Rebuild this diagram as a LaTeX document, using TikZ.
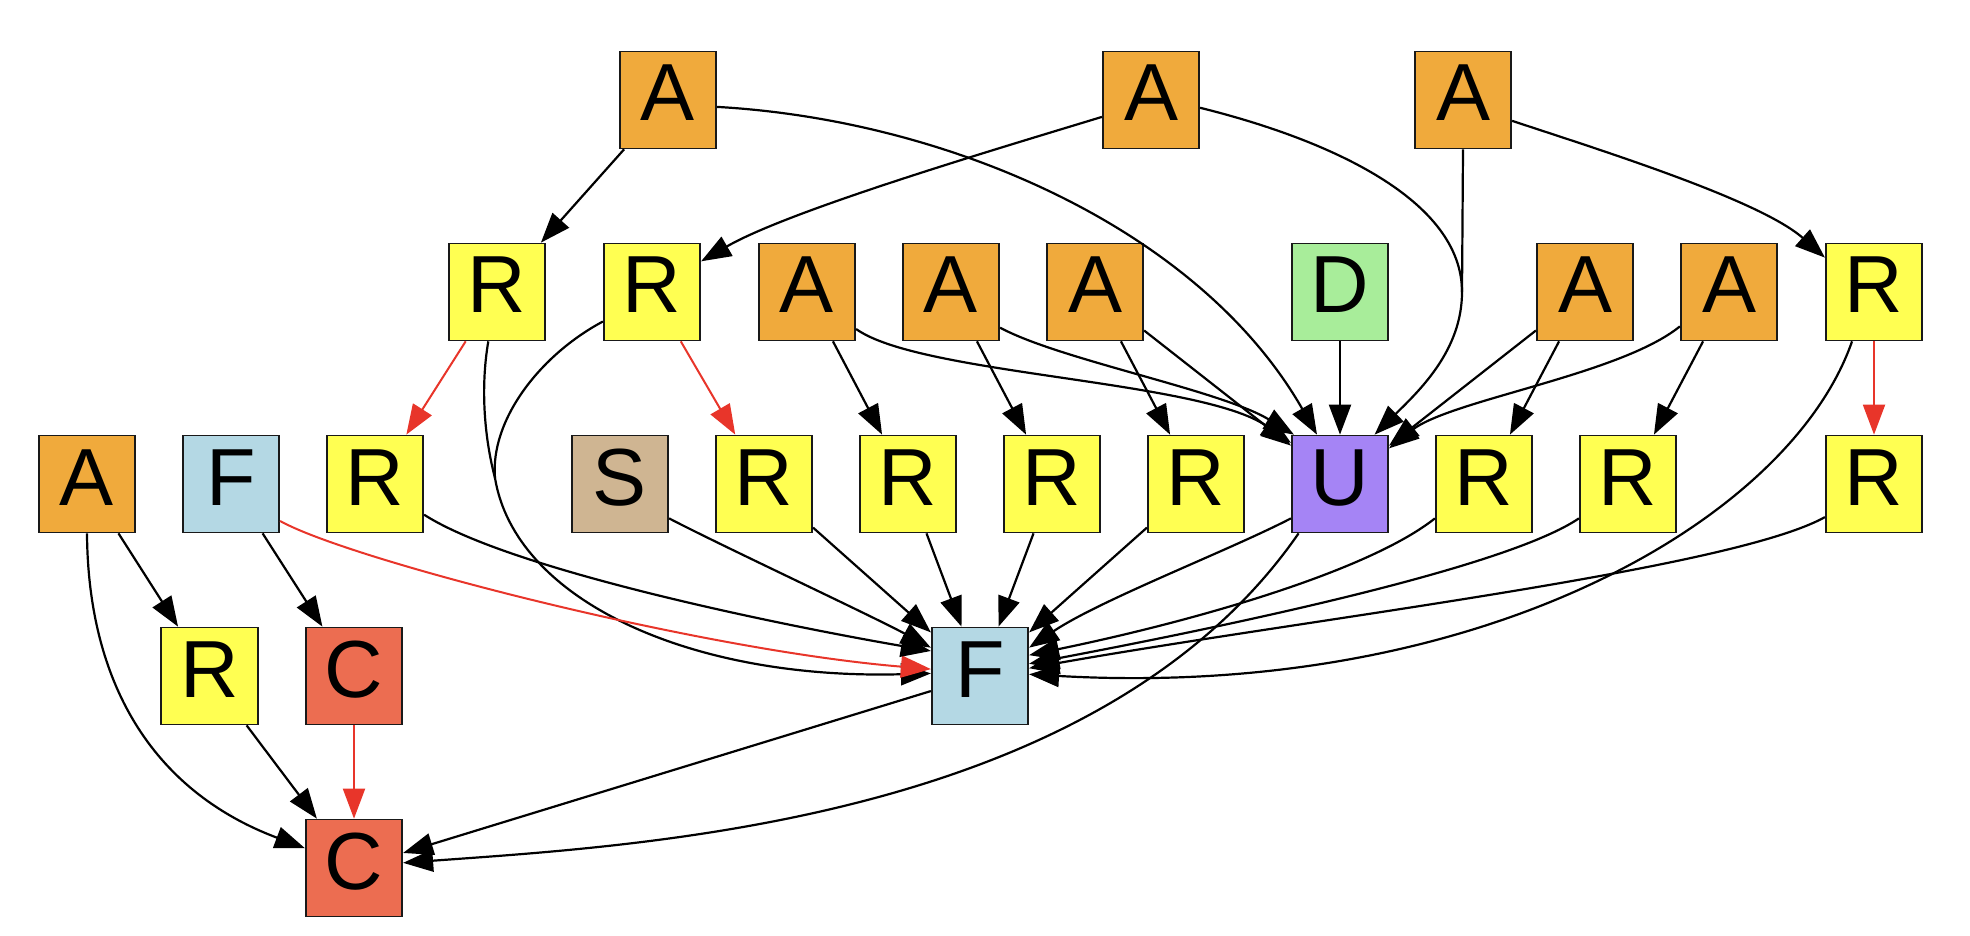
\documentclass[tikz,border=0pt]{standalone}
\usepackage{fontspec}
\setmainfont{Liberation Sans}
\usetikzlibrary{arrows.meta}
\definecolor{corange}{HTML}{F0AA3C}
\definecolor{cyellow}{HTML}{FFFF52}
\definecolor{cblue}{HTML}{B4D8E4}
\definecolor{csalmon}{HTML}{EC6D51}
\definecolor{cpurple}{HTML}{A584F5}
\definecolor{cgreen}{HTML}{A8ED9A}
\definecolor{ctan}{HTML}{CFB592}
\definecolor{cred}{HTML}{E8352A}
\begin{document}
\begin{tikzpicture}[x=0.5pt,y=-0.5pt,
  box/.style={draw=black!90, line width=0.85pt, minimum width=48.25pt, minimum height=48.5pt,
    inner sep=0pt, font=\fontsize{40.5}{40.5}\selectfont, text height=21pt, text depth=0pt},
  edge/.style={line width=1.1pt, -{Triangle[length=15pt,width=11pt]}},
  redge/.style={line width=1pt, draw=cred, -{Triangle[length=15pt,width=11pt]}},
  plain/.style={line width=1.1pt}
]
\useasboundingbox (0,0) rectangle (1970,936);
% row 1
\node[box, fill=corange] (a1) at (668,100) {A};
\node[box, fill=corange] (a2) at (1151,100) {A};
\node[box, fill=corange] (a3) at (1463,100) {A};
% row 2
\node[box, fill=cyellow] (r1) at (497,292) {R};
\node[box, fill=cyellow] (r2) at (652,292) {R};
\node[box, fill=corange] (a4) at (807,292) {A};
\node[box, fill=corange] (a5) at (951,292) {A};
\node[box, fill=corange] (a6) at (1095,292) {A};
\node[box, fill=cgreen] (d) at (1340,292) {D};
\node[box, fill=corange] (a7) at (1585,292) {A};
\node[box, fill=corange] (a8) at (1729,292) {A};
\node[box, fill=cyellow] (r3) at (1874,292) {R};
% row 3
\node[box, fill=corange] (a9) at (87,484) {A};
\node[box, fill=cblue] (f1) at (231,484) {F};
\node[box, fill=cyellow] (r4) at (375,484) {R};
\node[box, fill=ctan] (s) at (620,484) {S};
\node[box, fill=cyellow] (r5) at (764,484) {R};
\node[box, fill=cyellow] (r6) at (908,484) {R};
\node[box, fill=cyellow] (r7) at (1052,484) {R};
\node[box, fill=cyellow] (r8) at (1196,484) {R};
\node[box, fill=cpurple] (u) at (1340,484) {U};
\node[box, fill=cyellow] (r9) at (1484,484) {R};
\node[box, fill=cyellow] (r10) at (1628,484) {R};
\node[box, fill=cyellow] (r11) at (1874,484) {R};
% row 4
\node[box, fill=cyellow] (r12) at (209.5,676) {R};
\node[box, fill=csalmon] (c1) at (354,676) {C};
\node[box, fill=cblue] (f2) at (980,676) {F};
% row 5
\node[box, fill=csalmon] (c2) at (354,868) {C};
% merge points
\coordinate (m1) at (495,478);
\coordinate (m2) at (1462,292);

% edges from row 1
\draw[edge] (a1) -- (r1);
\draw[edge] (a1.-8) .. controls (950,120) and (1200,230) .. (u.115);
\draw[edge] (a2.199) .. controls (1000,148) and (790,210) .. (r2.32);
\draw[plain] (a2.-9) .. controls (1330,140) and (1462,200) .. (m2);
\draw[plain] (a3.south) -- (m2);
\draw[edge] (m2) .. controls (1462,350) and (1420,390) .. (u.55);
\draw[edge] (a3.-23) .. controls (1600,150) and (1760,200) .. (r3.145);

% edges from row 2
\draw[redge] (r1) -- (r4);
\draw[redge] (r2) -- (r5);
\draw[edge] (a4) -- (r6);
\draw[edge] (a5) -- (r7);
\draw[edge] (a6) -- (r8);
\draw[edge] (a7) -- (r9);
\draw[edge] (a8) -- (r10);
\draw[redge] (r3) -- (r11);
\draw[edge] (d) -- (u);
\draw[edge] (a6) -- (u);
\draw[edge] (a7) -- (u);
\draw[edge] (a4.-37) .. controls (920,375) and (1200,380) .. (u.140);
\draw[edge] (a5.-36) .. controls (1060,360) and (1220,390) .. (u.133);
\draw[edge] (a8.215) .. controls (1620,375) and (1450,400) .. (u.36);
\draw[plain] (r1.260) .. controls (480,390) and (485,440) .. (m1);
\draw[plain] (r2.211) .. controls (540,355) and (490,420) .. (m1);
\draw[edge] (m1) .. controls (515,600) and (690,680) .. (f2.177);
\draw[edge] (r3.246) .. controls (1790,520) and (1480,700) .. (f2.2);

% edges from row 3
\draw[redge] (f1.-37) .. controls (350,560) and (700,650) .. (f2.172);
\draw[edge] (r4.-32) .. controls (510,570) and (780,625) .. (f2.153);
\draw[edge] (s.-35) .. controls (720,545) and (870,615) .. (f2.150);
\draw[edge] (r5) -- (f2);
\draw[edge] (r6) -- (f2);
\draw[edge] (r7) -- (f2);
\draw[edge] (r8) -- (f2);
\draw[edge] (u.215) .. controls (1230,550) and (1100,600) .. (f2.30);
\draw[edge] (r9.215) .. controls (1370,570) and (1200,620) .. (f2.23);
\draw[edge] (r10.215) .. controls (1510,565) and (1260,620) .. (f2.14);
\draw[edge] (r11.214) .. controls (1730,570) and (1300,620) .. (f2.9);
\draw[edge] (u.230) .. controls (1100,820) and (650,845) .. (c2.6);
\draw[edge] (a9) -- (r12);
\draw[edge] (a9.south) .. controls (88,680) and (150,790) .. (c2.158);
\draw[edge] (f1) -- (c1);

% edges from row 4
\draw[edge] (r12) -- (c2);
\draw[redge] (c1) -- (c2);
\draw[edge] (f2) -- (c2);
\end{tikzpicture}
\end{document}
